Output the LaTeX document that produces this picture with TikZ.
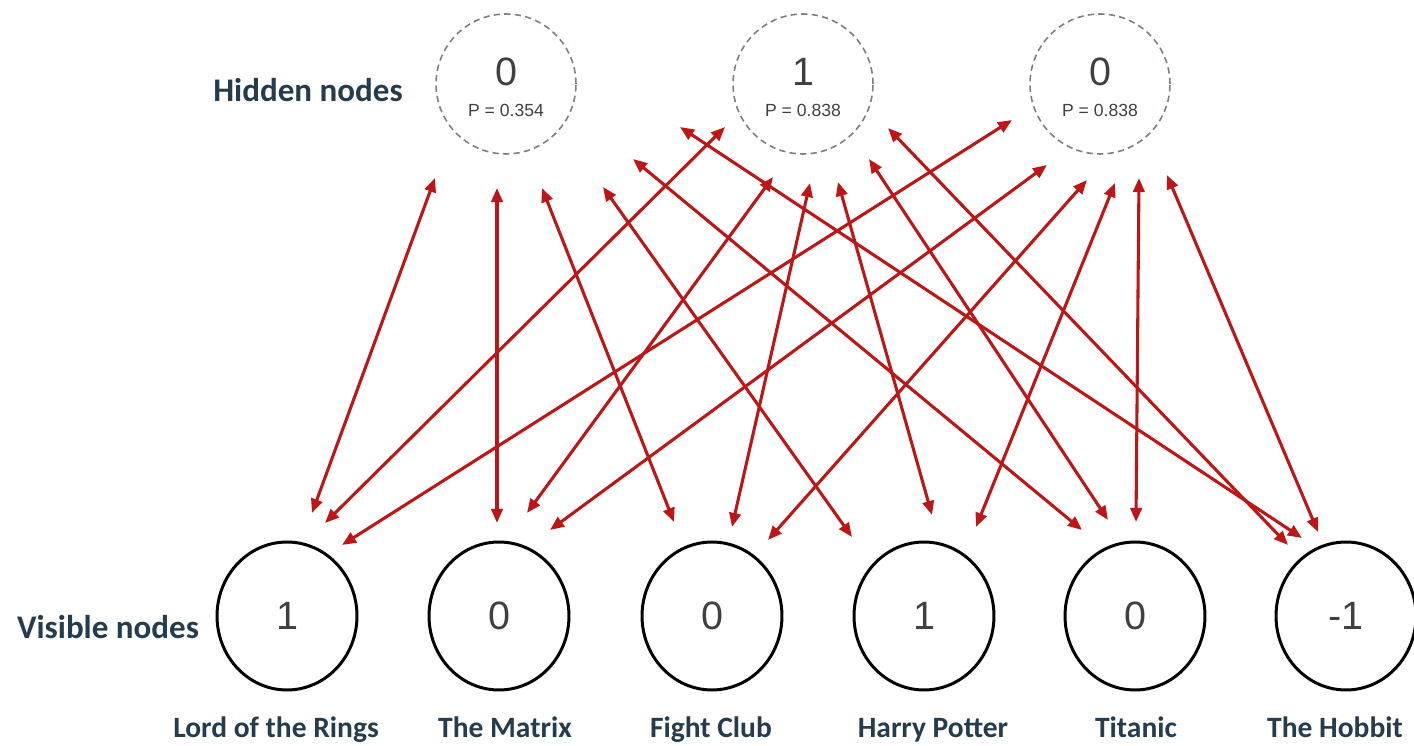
\documentclass[tikz,border=0pt]{standalone}
\usepackage{fontspec}
\setmainfont{Liberation Sans}
\newfontfamily\labelfont{Carlito}
\usepackage{xcolor}
\usetikzlibrary{arrows.meta,positioning,calc,shapes.geometric}

\definecolor{linkred}{RGB}{188,22,22}
\definecolor{labelblue}{RGB}{36,60,78}
\definecolor{dashgray}{RGB}{118,128,134}
\definecolor{numgray}{RGB}{64,64,64}

\tikzset{
  hidnode/.style={circle, draw=dashgray, line width=0.9pt, dash pattern=on 3.6pt off 2.4pt, minimum size=2.8cm, inner sep=0pt},
  visnode/.style={ellipse, draw=black, line width=1.7pt, minimum width=2.8cm, minimum height=2.96cm, inner sep=0pt},
  digit/.style={text=numgray, font=\fontsize{22.5}{26}\selectfont, inner sep=0pt},
  pval/.style={text=numgray, font=\fontsize{10}{12}\selectfont, inner sep=0pt},
  rowlabel/.style={text=labelblue, font=\labelfont\bfseries\fontsize{18.8}{22}\selectfont},
  movie/.style={text=labelblue, font=\labelfont\bfseries\fontsize{16.8}{20}\selectfont, anchor=base},
  link/.style={linkred, line width=1.75pt, {Triangle[length=8pt,width=6.5pt]}-{Triangle[length=8pt,width=6.5pt]}},
}

\begin{document}
\begin{tikzpicture}[x=0.02cm, y=-0.02cm]
  \useasboundingbox (0,0) rectangle (1414,746);

  % Hidden layer
  \node[rowlabel] (hidlabel) at (308,90) {Hidden nodes};
  \node[hidnode] (h1) at (506,84) {};
  \node[hidnode] (h2) at (803,84) {};
  \node[hidnode] (h3) at (1100,84) {};
  \node[digit] (h1d) at (506,72) {0};
  \node[digit] (h2d) at (803,72) {1};
  \node[digit] (h3d) at (1100,72) {0};
  \node[pval] (h1p) at (506,110) {P = 0.354};
  \node[pval] (h2p) at (803,110) {P = 0.838};
  \node[pval] (h3p) at (1100,110) {P = 0.838};

  % Visible layer
  \node[rowlabel] (vislabel) at (108,627) {Visible nodes};
  \node[visnode] (v1) at (287,616) {};
  \node[visnode] (v2) at (499,616) {};
  \node[visnode] (v3) at (712,616) {};
  \node[visnode] (v4) at (924,616) {};
  \node[visnode] (v5) at (1135,616) {};
  \node[visnode] (v6) at (1346,616) {};
  \node[digit] (v1d) at (v1) {1};
  \node[digit] (v2d) at (v2) {0};
  \node[digit] (v3d) at (v3) {0};
  \node[digit] (v4d) at (v4) {1};
  \node[digit] (v5d) at (v5) {0};
  \node[digit] (v6d) at (v6) {-1};

  % Movie names
  \node[movie] (m1) at (276,737) {Lord of the Rings};
  \node[movie] (m2) at (505,737) {The Matrix};
  \node[movie] (m3) at (711,737) {Fight Club};
  \node[movie] (m4) at (933,737) {Harry Potter};
  \node[movie] (m5) at (1136,737) {Titanic};
  \node[movie] (m6) at (1335,737) {The Hobbit};

  % Connections of the first hidden node
  \draw[link] ($(h1)+(-71,94)$) -- ($(v1)+(25,-103)$);
  \draw[link] ($(h1)+(-9,104)$) -- ($(v2)+(-2,-93)$);
  \draw[link] ($(h1)+(36,104)$) -- ($(v3)+(-38,-94)$);
  \draw[link] ($(h1)+(97,103)$) -- ($(v4)+(-72,-79)$);
  \draw[link] ($(h1)+(127,75)$) -- ($(v5)+(-53,-86)$);
  \draw[link] ($(h1)+(174,43)$) -- ($(v6)+(-44,-78)$);
  % Connections of the second hidden node
  \draw[link] ($(h2)+(-78,43)$) -- ($(v1)+(38,-93)$);
  \draw[link] ($(h2)+(-30,93)$) -- ($(v2)+(28,-103)$);
  \draw[link] ($(h2)+(7,99)$) -- ($(v3)+(20,-89)$);
  \draw[link] ($(h2)+(35,98)$) -- ($(v4)+(8,-101)$);
  \draw[link] ($(h2)+(66,75)$) -- ($(v5)+(-27,-96)$);
  \draw[link] ($(h2)+(85,44)$) -- ($(v6)+(-58,-71)$);
  % Connections of the third hidden node
  \draw[link] ($(h3)+(-88,36)$) -- ($(v1)+(55,-71)$);
  \draw[link] ($(h3)+(-53,81)$) -- ($(v2)+(51,-86)$);
  \draw[link] ($(h3)+(-13,96)$) -- ($(v3)+(56,-76)$);
  \draw[link] ($(h3)+(15,99)$) -- ($(v4)+(52,-89)$);
  \draw[link] ($(h3)+(39,94)$) -- ($(v5)+(1,-94)$);
  \draw[link] ($(h3)+(67,91)$) -- ($(v6)+(-28,-84)$);
\end{tikzpicture}
\end{document}
